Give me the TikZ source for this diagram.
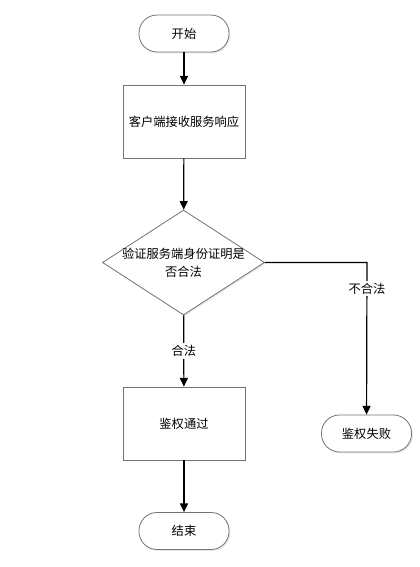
\documentclass[tikz,border=0pt]{standalone}
\usepackage{fontspec}
\setmainfont{Noto Sans CJK SC}
\usetikzlibrary{arrows.meta,shapes.geometric,shadows}
\begin{document}
\begin{tikzpicture}[x=0.75pt,y=-0.75pt,
  font=\fontsize{9.2pt}{13.5pt}\selectfont,
  shapeline/.style={draw=black!55,line width=0.6pt,fill=white,
    drop shadow={shadow xshift=1pt,shadow yshift=-1pt,opacity=0.18}},
  term/.style={shapeline,rectangle,rounded corners=13.5pt,minimum width=67.5pt,minimum height=27.75pt,inner sep=0pt},
  procbox/.style={shapeline,rectangle,minimum width=91.5pt,minimum height=54.75pt,inner sep=0pt},
  decide/.style={shapeline,diamond,minimum width=121.5pt,minimum height=78.75pt,aspect=1.54,inner sep=0pt},
  conn/.style={line width=0.9pt,black,-{Triangle[width=6pt,length=6.5pt]}},
  conntxt/.style={fill=white,inner sep=1.5pt}]
\useasboundingbox (0,0) rectangle (419,567);
\node[term] (start) at (184,33.5) {开始};
\node[procbox] (recv) at (184,121.5) {客户端接收服务响应};
\node[decide] (check) at (183.5,262.5) {};
\node[align=center] (checktxt) at (183.5,262.5) {验证服务端身份证明是\\否合法};
\node[procbox] (pass) at (184,423.5) {鉴权通过};
\node[term] (endn) at (184,531) {结束};
\node[term] (fail) at (366.5,433.5) {鉴权失败};
\coordinate (corner) at (367,262.5);
\draw[conn] (start) -- (recv);
\draw[conn] (recv) -- (check);
\draw[conn] (check) -- node[conntxt] {合法} (pass);
\draw[conn] (pass) -- (endn);
\draw[conn] (check.east) -- (corner) -- node[conntxt,pos=0.17] {不合法} (fail);
\end{tikzpicture}
\end{document}
